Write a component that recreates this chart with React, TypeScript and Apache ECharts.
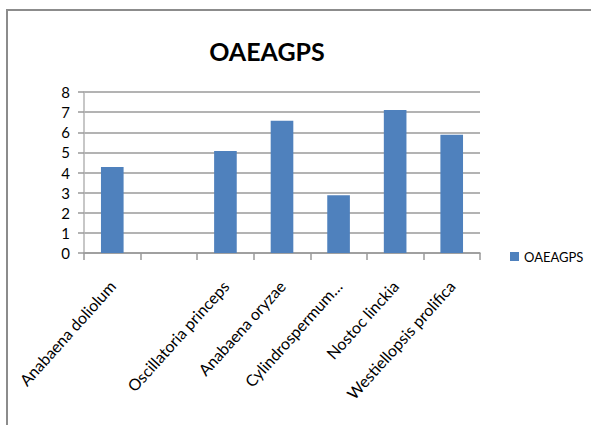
import React, { useEffect, useRef } from "react";
import * as echarts from "echarts";

const categories = [
  "Anabaena doliolum",
  "",
  "Oscillatoria princeps",
  "Anabaena oryzae",
  "Cylindrospermum…",
  "Nostoc linckia",
  "Westiellopsis prolifica",
];
const values: (number | null)[] = [4.27, null, 5.07, 6.57, 2.87, 7.1, 5.87];
const seriesName = "OAEAGPS";
const titleText = "OAEAGPS";

const FONT = "Lato, 'Liberation Sans', Arial, sans-serif";

export default function App() {
  const ref = useRef<HTMLDivElement>(null);
  useEffect(() => {
    if (!ref.current) return;
    const chart = echarts.init(ref.current, undefined, { renderer: "svg" });
    chart.setOption({
      animation: false,
      backgroundColor: "#ffffff",
      textStyle: { fontFamily: FONT },
      graphic: [
        {
          type: "rect",
          shape: { x: 7, y: 10, width: 620, height: 440 },
          style: { fill: "none", stroke: "#8c8c8c", lineWidth: 2 },
          silent: true,
        },
        {
          type: "text",
          x: 267,
          y: 51,
          style: {
            text: titleText,
            font: `bold 25px ${FONT}`,
            fill: "#000000",
            textAlign: "center",
            textVerticalAlign: "middle",
          },
        },
      ],
      legend: {
        data: [seriesName],
        left: 505,
        top: 245,
        itemWidth: 9,
        itemHeight: 9,
        itemGap: 5,
        icon: "rect",
        textStyle: { fontSize: 13, color: "#000000", fontFamily: FONT },
      },
      grid: { left: 84, top: 92, right: 111, bottom: 172, containLabel: false },
      xAxis: {
        type: "category",
        data: categories,
        boundaryGap: true,
        axisLine: { show: true, lineStyle: { color: "#9a9a9a", width: 1.5 } },
        axisTick: { show: true, alignWithLabel: false, length: 7, lineStyle: { color: "#9a9a9a", width: 1.5 } },
        axisLabel: {
          interval: 0,
          rotate: 48,
          margin: 30,
          fontSize: 16,
          color: "#000000",
          fontFamily: FONT,
        },
      },
      yAxis: {
        type: "value",
        min: 0,
        max: 8,
        interval: 1,
        axisLine: { show: true, lineStyle: { color: "#b4b4b4", width: 1.5 } },
        axisTick: { show: true, length: 6, lineStyle: { color: "#9a9a9a", width: 1.5 } },
        axisLabel: { fontSize: 15, color: "#000000", margin: 14, fontFamily: FONT },
        splitLine: { show: true, lineStyle: { color: "#9a9a9a", width: 1.5 } },
      },
      series: [
        {
          name: seriesName,
          type: "bar",
          data: values,
          barWidth: "40%",
          itemStyle: { color: "#4f81bd" },
        },
      ],
    });
    return () => chart.dispose();
  }, []);
  return (
    <div
      ref={ref}
      style={{ position: "fixed", left: 0, top: 0, width: 591, height: 425 }}
    />
  );
}
